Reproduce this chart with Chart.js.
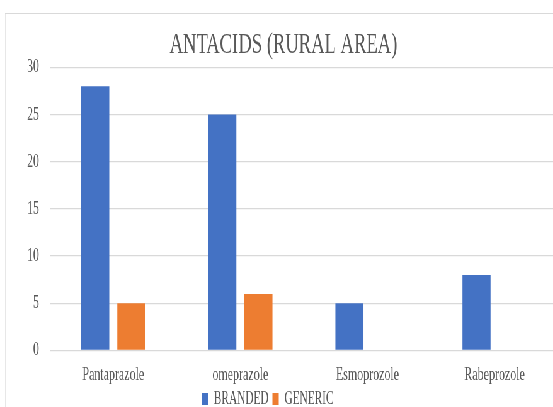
<!DOCTYPE html>
<html>
<head>
<meta charset="utf-8">
<script src="https://cdn.jsdelivr.net/npm/chart.js@4"></script>
<style>
  html, body { margin: 0; padding: 0; background: #ffffff; overflow: hidden; width: 553px; height: 407px; }
  #frame {
    position: absolute; left: 5px; top: 13px;
    width: 883px; height: 406px;
    box-sizing: border-box;
    border: 1.5px solid #d9d9d9;
    background: #ffffff;
    transform: scaleX(0.63); transform-origin: 0 0;
  }
  #frame canvas { display: block; }
</style>
</head>
<body>
<div id="frame"><canvas id="chart"></canvas></div>
<script>
// Antacid prescriptions in the rural area, branded vs generic
const categories = ['Pantaprazole', 'omeprazole', 'Esmoprozole', 'Rabeprozole'];
const branded = [28, 25, 5, 8];
const generic = [5, 6, null, null];
const yTicks = [0, 5, 10, 15, 20, 25, 30];

const TEXT = '#595959';
const SERIF = '"Liberation Serif", "Times New Roman", serif';

// Title and legend sit slightly left of the canvas centre line
const blockShift = {
  id: 'blockShift',
  afterLayout(chart) {
    const lg = chart.legend;
    if (lg) { lg.left -= 31; lg.right -= 31; }
    const tb = chart.titleBlock;
    if (tb) { tb.left -= 6; tb.right -= 6; }
  }
};

new Chart(document.getElementById('chart'), {
  type: 'bar',
  data: {
    labels: categories,
    datasets: [
      { label: 'BRANDED', data: branded, backgroundColor: '#4472C4', borderWidth: 0 },
      { label: 'GENERIC', data: generic, backgroundColor: '#ED7D31', borderWidth: 0 }
    ]
  },
  plugins: [blockShift],
  options: {
    responsive: true,
    maintainAspectRatio: false,
    animation: false,
    categoryPercentage: 0.568,
    barPercentage: 0.778,
    layout: { padding: { left: 17, right: 4, top: 0, bottom: 0 } },
    plugins: {
      title: {
        display: true,
        text: 'ANTACIDS (RURAL AREA)',
        color: TEXT,
        font: { family: SERIF, size: 29.5, weight: 'normal' },
        padding: { top: 14, bottom: 4 }
      },
      legend: {
        display: true,
        position: 'bottom',
        labels: {
          color: TEXT,
          font: { family: SERIF, size: 18 },
          boxWidth: 10,
          boxHeight: 12,
          padding: 6
        }
      },
      tooltip: { enabled: false }
    },
    scales: {
      x: {
        grid: { display: false, drawTicks: false, tickLength: 0 },
        border: { display: false },
        ticks: { color: TEXT, font: { family: SERIF, size: 19 }, padding: 13, maxRotation: 0 },
        afterFit: (scale) => { scale.height = 33.5; }
      },
      y: {
        min: yTicks[0],
        max: yTicks[yTicks.length - 1],
        afterBuildTicks: (scale) => { scale.ticks = yTicks.map(v => ({ value: v })); },
        grid: { color: '#d9d9d9', lineWidth: 1.3, drawTicks: false },
        border: { display: false },
        ticks: { color: TEXT, font: { family: SERIF, size: 19 }, padding: 17 }
      }
    }
  }
});
</script>
</body>
</html>
